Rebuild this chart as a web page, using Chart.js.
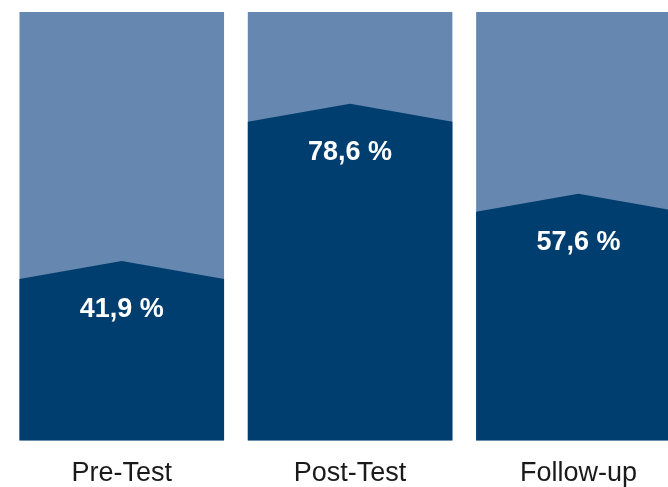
<!DOCTYPE html>
<html>
<head>
<meta charset="utf-8">
<script src="https://cdn.jsdelivr.net/npm/chart.js@4/dist/chart.umd.min.js"></script>
<style>
  html, body { margin: 0; padding: 0; background: #ffffff; overflow: hidden; }
  #wrap { width: 668px; height: 487px; overflow: hidden; position: relative; }
  canvas { display: block; }
</style>
</head>
<body>
<div id="wrap"><canvas id="c" width="700" height="487"></canvas></div>
<script>
// ---- data ----
const categories = ["Pre-Test", "Post-Test", "Follow-up"];
const values = [41.9, 78.6, 57.6];
const totals = [100, 100, 100];
const valueLabels = ["41,9 %", "78,6 %", "57,6 %"];
const shoulderDrop = 4.2; // how far the bar corners sit below the peak (value units)

const LIGHT = "#6687af";
const DARK = "#003e6f";
const FONT = "'Liberation Sans', Arial, Helvetica, sans-serif";

const peakPlugin = {
  id: "peakBars",
  beforeDatasetDraw(chart, args) {
    if (args.index !== 1) return;
    const ctx = chart.ctx;
    const y = chart.scales.y;
    const meta = chart.getDatasetMeta(1);
    ctx.save();
    ctx.fillStyle = DARK;
    meta.data.forEach((el, i) => {
      const p = el.getProps(["x", "y", "base", "width"], true);
      const left = p.x - p.width / 2, right = p.x + p.width / 2;
      const sh = y.getPixelForValue(values[i] - shoulderDrop);
      ctx.beginPath();
      ctx.moveTo(left, p.base);
      ctx.lineTo(left, sh);
      ctx.lineTo(p.x, p.y);
      ctx.lineTo(right, sh);
      ctx.lineTo(right, p.base);
      ctx.closePath();
      ctx.fill();
    });
    ctx.restore();
    return false;
  },
  afterDatasetsDraw(chart) {
    const ctx = chart.ctx;
    const meta = chart.getDatasetMeta(1);
    ctx.save();
    ctx.fillStyle = "#ffffff";
    ctx.font = "bold 27px " + FONT;
    ctx.textAlign = "center";
    ctx.textBaseline = "middle";
    meta.data.forEach((el, i) => {
      const p = el.getProps(["x", "y"], true);
      ctx.fillText(valueLabels[i], p.x, p.y + 49);
    });
    ctx.restore();
  }
};

new Chart(document.getElementById("c"), {
  type: "bar",
  data: {
    labels: categories,
    datasets: [
      { data: totals, backgroundColor: LIGHT, order: 2, barPercentage: 0.896, categoryPercentage: 1 },
      { data: values, backgroundColor: DARK, order: 1, barPercentage: 0.896, categoryPercentage: 1 }
    ]
  },
  options: {
    responsive: false,
    animation: false,
    grouped: false,
    layout: { padding: { left: 7.6, right: 7.4, top: 12, bottom: 0 } },
    plugins: { legend: { display: false }, tooltip: { enabled: false } },
    scales: {
      x: {
        grid: { display: false, drawTicks: false },
        border: { display: false },
        ticks: { color: "#1a1a1a", font: { family: FONT, size: 27 }, padding: 17 },
        afterFit(scale) { scale.height = 46.5; }
      },
      y: {
        display: false,
        min: 0,
        max: 100
      }
    }
  },
  plugins: [peakPlugin]
});
</script>
</body>
</html>
